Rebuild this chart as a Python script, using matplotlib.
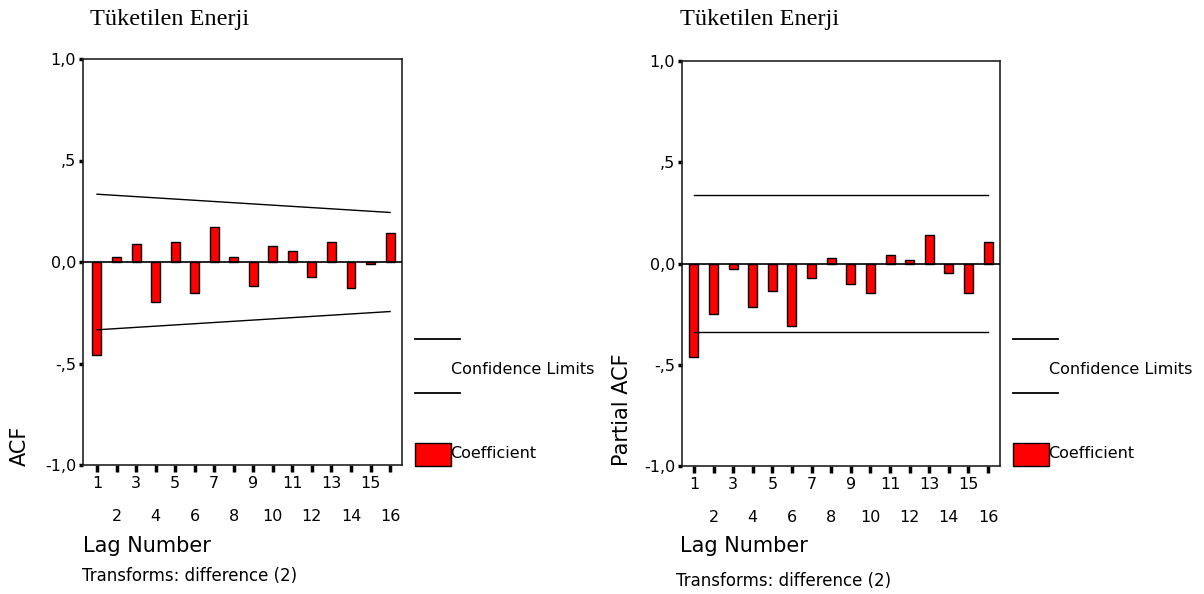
import matplotlib
matplotlib.use("Agg")
import matplotlib.pyplot as plt
from matplotlib.lines import Line2D
from matplotlib.patches import Rectangle

# Series data
lags = list(range(1, 17))
acf = [-0.458, 0.026, 0.087, -0.196, 0.097, -0.151, 0.173, 0.026,
       -0.118, 0.079, 0.052, -0.074, 0.097, -0.126, -0.011, 0.141]
acf_upper = [0.334, 0.328, 0.322, 0.316, 0.310, 0.304, 0.298, 0.292,
             0.286, 0.280, 0.274, 0.268, 0.262, 0.256, 0.250, 0.244]
pacf = [-0.462, -0.249, -0.029, -0.213, -0.134, -0.309, -0.074, 0.026,
        -0.100, -0.144, 0.041, 0.016, 0.139, -0.047, -0.144, 0.105]
pacf_limit = 0.340

title = "Tüketilen Enerji"
ytick_vals = [-1.0, -0.5, 0.0, 0.5, 1.0]
ytick_labels = ["-1,0", "-,5", "0,0", ",5", "1,0"]

W, H = 1204, 594
fig = plt.figure(figsize=(W / 100, H / 100), dpi=100)
fig.patch.set_facecolor("white")

SANS = ["DejaVu Sans"]
SERIF = ["Liberation Serif", "DejaVu Serif"]


def fx(x):
    return x / W


def fy(y):
    return 1 - y / H


def panel(rect, values, upper, lower, ylabel, xlim, ylab_x, lag_x, tr_x, tr_y,
          title_x, leg_x):
    ax = fig.add_axes(rect)
    ax.bar(lags, values, width=0.46, color="#ff0000", edgecolor="black",
           linewidth=1.0, zorder=3)
    ax.plot(lags, upper, color="black", linewidth=1.0, zorder=5)
    ax.plot(lags, lower, color="black", linewidth=1.0, zorder=5)
    ax.axhline(0, color="black", linewidth=1.2, zorder=4)
    ax.set_xlim(*xlim)
    ax.set_ylim(-1.0, 1.0)
    for s in ax.spines.values():
        s.set_linewidth(1.2)
        s.set_color("#222222")

    ax.set_yticks(ytick_vals)
    ax.set_yticklabels(ytick_labels, family=SANS, fontsize=11.5)
    ax.tick_params(axis="y", direction="out", length=3, width=2.5, pad=2,
                   colors="black")

    odd = [l for l in lags if l % 2 == 1]
    even = [l for l in lags if l % 2 == 0]
    ax.set_xticks(odd)
    ax.set_xticklabels([str(l) for l in odd], family=SANS, fontsize=11.5)
    ax.set_xticks(even, minor=True)
    ax.set_xticklabels([str(l) for l in even], minor=True, family=SANS,
                       fontsize=11.5)
    ax.tick_params(axis="x", which="major", direction="out", length=5,
                   width=2.5, pad=3)
    ax.tick_params(axis="x", which="minor", direction="out", length=5,
                   width=2.5, pad=27)

    fig.text(fx(ylab_x), fy(466), ylabel, rotation=90, ha="center",
             va="bottom", family=SANS, fontsize=15)
    fig.text(fx(lag_x), fy(546), "Lag Number", ha="left", va="center",
             family=SANS, fontsize=15)
    fig.text(fx(tr_x), fy(tr_y), "Transforms: difference (2)", ha="left",
             va="center", family=SANS, fontsize=12)
    fig.text(fx(title_x), fy(19), title, ha="center", va="center",
             family=SERIF, fontsize=17.5)

    # legend
    for ly in (339, 393):
        fig.add_artist(Line2D([fx(leg_x), fx(leg_x + 45)], [fy(ly), fy(ly)],
                              color="black", linewidth=1.3))
    fig.text(fx(leg_x + 36), fy(370), "Confidence Limits", ha="left",
             va="center", family=SANS, fontsize=11.5)
    fig.add_artist(Rectangle((fx(leg_x), fy(466)), fx(36), 23 / H,
                             facecolor="#ff0000", edgecolor="black",
                             linewidth=1.0, transform=fig.transFigure))
    fig.text(fx(leg_x + 35), fy(454), "Coefficient", ha="left", va="center",
             family=SANS, fontsize=11.5)
    return ax


acf_lower = [-u for u in acf_upper]
panel([fx(83), fy(465), fx(319), 406 / H], acf, acf_upper, acf_lower, "ACF",
      (0.284, 16.61), 20, 83, 82, 576, 170, 415)

pacf_upper = [pacf_limit] * len(lags)
pacf_lower = [-pacf_limit] * len(lags)
panel([fx(682), fy(466), fx(318), 405 / H], pacf, pacf_upper, pacf_lower,
      "Partial ACF", (0.39, 16.61), 622, 680, 676, 581, 760, 1013)

fig.savefig("out.png", dpi=100)
